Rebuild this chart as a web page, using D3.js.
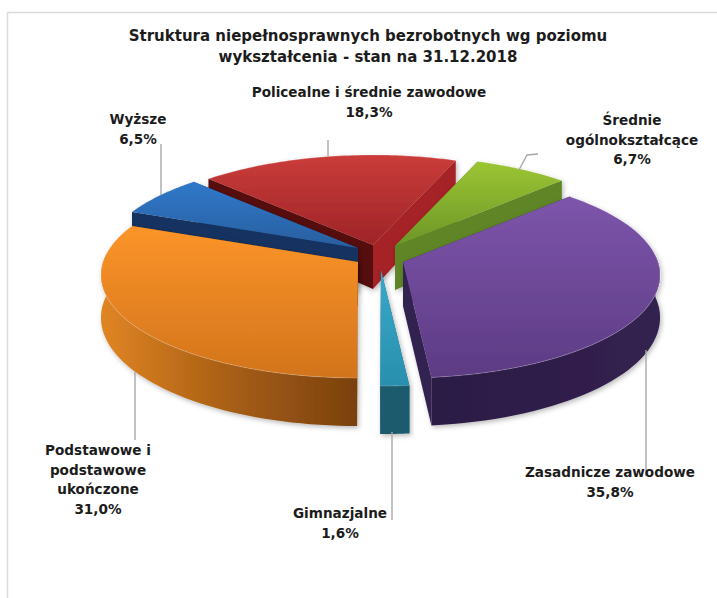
<!DOCTYPE html>
<html><head><meta charset="utf-8">
<script src="https://cdnjs.cloudflare.com/ajax/libs/d3/7.8.5/d3.min.js"></script>
<style>html,body{margin:0;background:#fff}svg{display:block}text{font-family:"DejaVu Sans",sans-serif;font-weight:700;fill:#1c1c1c;text-anchor:middle}</style>
</head><body><svg id="c" width="717" height="598"></svg>
<script>
// Data, clockwise from the upper right
const categories = ["Zasadnicze zawodowe","Gimnazjalne","Podstawowe i podstawowe ukończone","Wyższe","Policealne i średnie zawodowe","Średnie ogólnokształcące"];
const values = [35.8,1.6,31.0,6.5,18.3,6.7];
const valueLabels = ["35,8%","1,6%","31,0%","6,5%","18,3%","6,7%"];
const titleLines = ["Struktura niepełnosprawnych bezrobotnych wg poziomu","wykształcenia - stan na 31.12.2018"];

// Layout and styling
const apexes = [[403,262],[381,270],[358,262],[358,248],[373,245],[395,246]];
const topColors = [["#7d55ab","#5d3b84"],["#37a9c9","#2a8fae"],["#fc9429","#d2741c"],["#2f78ca","#2a5f9f"],["#cb3c3a","#9e2427"],["#9cc532","#6c9629"]];
const rimStops = [["#2b1b45","#33214f"],["#1a5a6e","#1a5a6e"],["#e08524","#a85e14","#7a4110"],["#123260","#123260"],["#7a1416","#7a1416"],["#4f7a22","#4f7a22"]];
const startWall = ["#2f1f4b","#1c5f73","#7a4110","#123260","#560e10","#4f7a22"];
const endWall   = ["#33214f","#1a5568","#7a4110","#123260","#a52427","#5e8526"];
const paintOrder = [4,5,3,2,0,1];
const labelBlocks = [
 {lines:["Zasadnicze zawodowe","35,8%"],x:610,y:477},
 {lines:["Gimnazjalne","1,6%"],x:340,y:518},
 {lines:["Podstawowe i","podstawowe","ukończone","31,0%"],x:98,y:455},
 {lines:["Wyższe","6,5%"],x:138,y:124},
 {lines:["Policealne i średnie zawodowe","18,3%"],x:369,y:97},
 {lines:["Średnie","ogólnokształcące","6,7%"],x:632,y:125}
];
const leaders = [
 [[646,350],[646,476]],[[392,432],[392,520]],[[135,372],[135,440]],
 [[161,144],[161,195]],[[328,140],[328,156]],[[519,170],[527,155],[538,154]]
];

const R=255, RY=101.4, P=0.126, DEPTH=42;
const svg=d3.select("#c");
const defs=svg.append("defs");
const f=defs.append("filter").attr("id","sh").attr("x","-15%").attr("y","-15%").attr("width","130%").attr("height","135%");
f.append("feDropShadow").attr("dx",1.5).attr("dy",2).attr("stdDeviation",2.5).attr("flood-color","#000").attr("flood-opacity",.28);
const soft=defs.append("filter").attr("id","soft");
soft.append("feGaussianBlur").attr("stdDeviation",.45);

svg.append("path").attr("d","M717,12.5H7.5V598").attr("fill","none").attr("stroke","#dcdcdc").attr("stroke-width",1.5);

const pie=d3.pie().sort(null).value(d=>d).startAngle(45.4*Math.PI/180).endAngle((45.4+360)*Math.PI/180);
const arcs=pie(values);

function pt(a,r,[ax,ay],drop=0){
  const u=Math.sin(a)*r, v=-Math.cos(a)*r, w=1/(1-P*v);
  return [ax+u*R*w, ay+v*RY*w+drop*(r===0?1:w)];
}
const line=d3.line();
function grad(id,stops,horizontal){
  const g=defs.append("linearGradient").attr("id",id).attr("x1",0).attr("y1",0).attr("x2",horizontal?1:0).attr("y2",horizontal?0:1);
  stops.forEach((c,i)=>g.append("stop").attr("offset",i/(stops.length-1)).attr("stop-color",c));
}
topColors.forEach((c,i)=>{grad("t"+i,c,false);grad("r"+i,rimStops[i],true)});

const gPie=svg.append("g");
paintOrder.forEach(i=>{
  const d=arcs[i], ap=apexes[i];
  const steps=d3.range(0,61).map(k=>d.startAngle+(d.endAngle-d.startAngle)*k/60);
  const rimTop=steps.map(a=>pt(a,1,ap));
  const rimBot=steps.map(a=>pt(a,1,ap,DEPTH));
  const front=steps.filter(a=>-Math.cos(a)>-0.1);
  const g=gPie.append("g").attr("filter","url(#sh)").append("g").attr("filter","url(#soft)");
  const apBot=pt(0,0,ap,DEPTH*1.05);
  g.append("path").attr("fill",startWall[i]).attr("d",line([ap,rimTop[0],rimBot[0],apBot])+"Z");
  g.append("path").attr("fill",endWall[i]).attr("d",line([ap,rimTop[60],rimBot[60],apBot])+"Z");
  if(front.length>1){
    const a=front.map(t=>pt(t,1,ap)), b=front.map(t=>pt(t,1,ap,DEPTH)).reverse();
    g.append("path").attr("fill",`url(#r${i})`).attr("d",line(a.concat(b))+"Z");
  }
  g.append("path").attr("fill",`url(#t${i})`).attr("d",line([ap].concat(rimTop))+"Z");
  g.append("path").attr("fill","none").attr("stroke","#fff").attr("stroke-opacity",.22).attr("stroke-width",1).attr("d",line(rimTop));
});

svg.append("g").selectAll("path").data(leaders).join("path")
  .attr("d",d=>line(d)).attr("fill","none").attr("stroke","#a8a8a8").attr("stroke-width",1.4);

svg.append("g").selectAll("text").data(titleLines).join("text")
  .attr("x",368).attr("y",(d,i)=>41+i*21).attr("font-size",15).text(d=>d);

const lb=svg.append("g").selectAll("g").data(labelBlocks).join("g");
lb.selectAll("text").data(d=>d.lines.map((t,i)=>({t,x:d.x,y:d.y+i*19.5}))).join("text")
  .attr("x",d=>d.x).attr("y",d=>d.y).attr("font-size",13.6).text(d=>d.t);
</script></body></html>
